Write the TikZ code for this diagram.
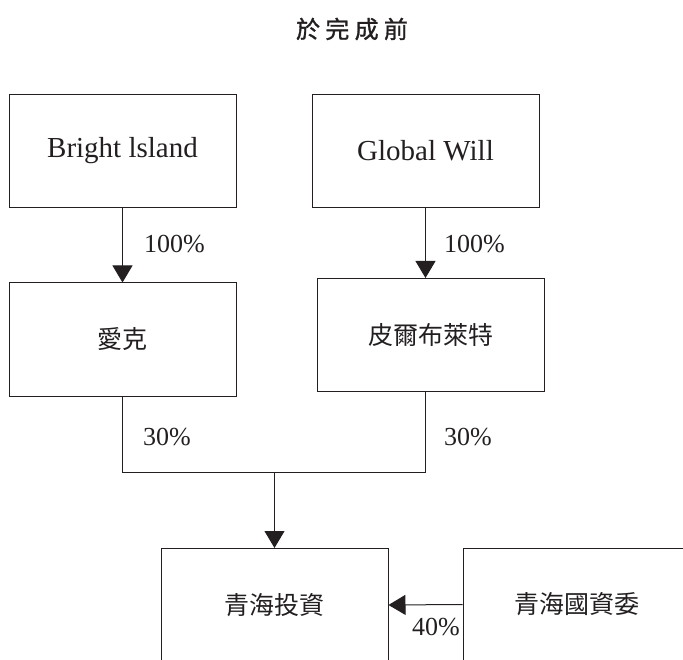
\documentclass[tikz,border=0pt]{standalone}
\usepackage{fontspec}
\setmainfont{Liberation Serif}
\newfontfamily\cjk{Noto Sans CJK TC}
\newfontfamily\cjktitle{Noto Sans CJK TC}[LetterSpace=22,FakeBold=1.2]
\usetikzlibrary{arrows.meta}
\definecolor{ink}{HTML}{231F20}
\tikzset{
  orgbox/.style={draw=ink, line width=1pt, minimum width=227pt, minimum height=113pt, inner sep=0pt, text=ink, font=\fontsize{29}{32}\selectfont},
  cjkbox/.style={orgbox, font=\cjk\fontsize{25}{28}\selectfont},
  pct/.style={anchor=west, inner sep=0pt, text=ink, font=\fontsize{26}{28}\selectfont},
  link/.style={draw=ink, line width=1pt},
  arr/.style={link, -{Triangle[width=20pt,length=17pt]}},
}
\begin{document}
\begin{tikzpicture}[x=1pt,y=-1pt]
\useasboundingbox (0,0) rectangle (683,660);
\clip (0,0) rectangle (683,660);
\node[text=ink, font=\cjktitle\fontsize{24}{26}\selectfont] (title) at (352,29) {於完成前};
\node[orgbox] (bi) at (122.5,151) {Bright lsland};
\node[orgbox] (gw) at (425.5,151) {Global Will};
\node[cjkbox] (ak) at (122.5,339.5) {愛克};
\node[cjkbox] (pe) at (430.5,335) {皮爾布萊特};
\node[cjkbox] (qi) at (274.5,605) {青海投資};
\node[cjkbox] (qg) at (576.5,604.5) {青海國資委};
\coordinate (jl) at (122.5,472);
\coordinate (jr) at (425.5,472);
\coordinate (jm) at (274.5,472);
\draw[arr] (bi.south) -- (ak.north);
\draw[arr] (gw.south) -- (gw.south |- pe.north);
\draw[link] (ak.south) -- (jl) -- (jr) -- (jr |- pe.south);
\draw[arr] (jm) -- (qi.north);
\draw[arr] (qg.west) -- (qi.east);
\node[pct] (p1) at (144,244) {100\%};
\node[pct] (p2) at (444,244) {100\%};
\node[pct] (p3) at (143,437) {30\%};
\node[pct] (p4) at (444,437) {30\%};
\node[pct] (p5) at (412,627) {40\%};
\end{tikzpicture}
\end{document}
